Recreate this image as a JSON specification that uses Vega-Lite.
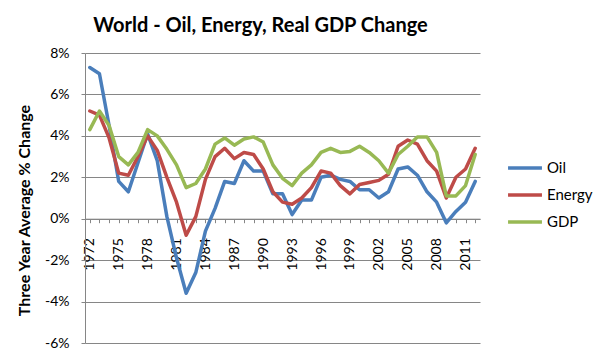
{
 "$schema": "https://vega.github.io/schema/vega-lite/v6.json",
 "width": 395, "height": 290,
 "autosize": {"type": "none"},
 "padding": {"left": 85, "top": 53, "right": 120, "bottom": 13},
 "background": "white",
 "title": {"text": "World - Oil, Energy, Real GDP Change", "font": "Lato", "fontSize": 20, "fontWeight": "bold", "color": "#000", "anchor": "middle", "dx": -22, "offset": 10},
 "data": {"values": [
  {"year":1972,"series":"Oil","value":7.3},{"year":1973,"series":"Oil","value":7.0},{"year":1974,"series":"Oil","value":4.5},{"year":1975,"series":"Oil","value":1.8},{"year":1976,"series":"Oil","value":1.3},{"year":1977,"series":"Oil","value":2.7},{"year":1978,"series":"Oil","value":4.1},{"year":1979,"series":"Oil","value":2.8},{"year":1980,"series":"Oil","value":0.1},{"year":1981,"series":"Oil","value":-1.9},{"year":1982,"series":"Oil","value":-3.6},{"year":1983,"series":"Oil","value":-2.6},{"year":1984,"series":"Oil","value":-0.6},{"year":1985,"series":"Oil","value":0.5},{"year":1986,"series":"Oil","value":1.8},{"year":1987,"series":"Oil","value":1.7},{"year":1988,"series":"Oil","value":2.8},{"year":1989,"series":"Oil","value":2.3},{"year":1990,"series":"Oil","value":2.3},{"year":1991,"series":"Oil","value":1.2},{"year":1992,"series":"Oil","value":1.2},{"year":1993,"series":"Oil","value":0.2},{"year":1994,"series":"Oil","value":0.9},{"year":1995,"series":"Oil","value":0.9},{"year":1996,"series":"Oil","value":2.0},{"year":1997,"series":"Oil","value":2.1},{"year":1998,"series":"Oil","value":1.9},{"year":1999,"series":"Oil","value":1.8},{"year":2000,"series":"Oil","value":1.4},{"year":2001,"series":"Oil","value":1.4},{"year":2002,"series":"Oil","value":1.0},{"year":2003,"series":"Oil","value":1.3},{"year":2004,"series":"Oil","value":2.4},{"year":2005,"series":"Oil","value":2.5},{"year":2006,"series":"Oil","value":2.1},{"year":2007,"series":"Oil","value":1.3},{"year":2008,"series":"Oil","value":0.8},{"year":2009,"series":"Oil","value":-0.2},{"year":2010,"series":"Oil","value":0.35},{"year":2011,"series":"Oil","value":0.8},{"year":2012,"series":"Oil","value":1.8},
  {"year":1972,"series":"Energy","value":5.2},{"year":1973,"series":"Energy","value":5.0},{"year":1974,"series":"Energy","value":3.9},{"year":1975,"series":"Energy","value":2.2},{"year":1976,"series":"Energy","value":2.1},{"year":1977,"series":"Energy","value":3.0},{"year":1978,"series":"Energy","value":4.0},{"year":1979,"series":"Energy","value":3.3},{"year":1980,"series":"Energy","value":2.0},{"year":1981,"series":"Energy","value":0.8},{"year":1982,"series":"Energy","value":-0.8},{"year":1983,"series":"Energy","value":0.1},{"year":1984,"series":"Energy","value":1.9},{"year":1985,"series":"Energy","value":3.0},{"year":1986,"series":"Energy","value":3.4},{"year":1987,"series":"Energy","value":2.9},{"year":1988,"series":"Energy","value":3.2},{"year":1989,"series":"Energy","value":3.1},{"year":1990,"series":"Energy","value":2.4},{"year":1991,"series":"Energy","value":1.3},{"year":1992,"series":"Energy","value":0.8},{"year":1993,"series":"Energy","value":0.7},{"year":1994,"series":"Energy","value":1.0},{"year":1995,"series":"Energy","value":1.5},{"year":1996,"series":"Energy","value":2.3},{"year":1997,"series":"Energy","value":2.2},{"year":1998,"series":"Energy","value":1.6},{"year":1999,"series":"Energy","value":1.2},{"year":2000,"series":"Energy","value":1.65},{"year":2001,"series":"Energy","value":1.75},{"year":2002,"series":"Energy","value":1.85},{"year":2003,"series":"Energy","value":2.15},{"year":2004,"series":"Energy","value":3.5},{"year":2005,"series":"Energy","value":3.8},{"year":2006,"series":"Energy","value":3.6},{"year":2007,"series":"Energy","value":2.8},{"year":2008,"series":"Energy","value":2.3},{"year":2009,"series":"Energy","value":1.0},{"year":2010,"series":"Energy","value":2.0},{"year":2011,"series":"Energy","value":2.4},{"year":2012,"series":"Energy","value":3.4},
  {"year":1972,"series":"GDP","value":4.3},{"year":1973,"series":"GDP","value":5.2},{"year":1974,"series":"GDP","value":4.5},{"year":1975,"series":"GDP","value":3.0},{"year":1976,"series":"GDP","value":2.6},{"year":1977,"series":"GDP","value":3.2},{"year":1978,"series":"GDP","value":4.3},{"year":1979,"series":"GDP","value":4.0},{"year":1980,"series":"GDP","value":3.35},{"year":1981,"series":"GDP","value":2.6},{"year":1982,"series":"GDP","value":1.5},{"year":1983,"series":"GDP","value":1.7},{"year":1984,"series":"GDP","value":2.4},{"year":1985,"series":"GDP","value":3.6},{"year":1986,"series":"GDP","value":3.9},{"year":1987,"series":"GDP","value":3.55},{"year":1988,"series":"GDP","value":3.85},{"year":1989,"series":"GDP","value":3.95},{"year":1990,"series":"GDP","value":3.7},{"year":1991,"series":"GDP","value":2.6},{"year":1992,"series":"GDP","value":1.95},{"year":1993,"series":"GDP","value":1.6},{"year":1994,"series":"GDP","value":2.2},{"year":1995,"series":"GDP","value":2.6},{"year":1996,"series":"GDP","value":3.2},{"year":1997,"series":"GDP","value":3.4},{"year":1998,"series":"GDP","value":3.2},{"year":1999,"series":"GDP","value":3.25},{"year":2000,"series":"GDP","value":3.5},{"year":2001,"series":"GDP","value":3.2},{"year":2002,"series":"GDP","value":2.8},{"year":2003,"series":"GDP","value":2.2},{"year":2004,"series":"GDP","value":3.1},{"year":2005,"series":"GDP","value":3.5},{"year":2006,"series":"GDP","value":3.95},{"year":2007,"series":"GDP","value":3.95},{"year":2008,"series":"GDP","value":3.2},{"year":2009,"series":"GDP","value":1.1},{"year":2010,"series":"GDP","value":1.1},{"year":2011,"series":"GDP","value":1.6},{"year":2012,"series":"GDP","value":3.1}
 ]},
 "mark": {"type": "line", "strokeWidth": 3.5, "strokeJoin": "round", "strokeCap": "round"},
 "encoding": {
  "x": {"field": "year", "type": "ordinal", "sort": "ascending", "scale": {"type": "point", "padding": 0.5},
        "axis": {"title": null, "offset": -124.3, "grid": false, "domainColor": "#868686", "tickColor": "#868686", "tickSize": 4, "labelAngle": 270, "labelFont": "Lato", "labelFontSize": 14, "labelColor": "#000", "labelPadding": 15, "labelOverlap": false, "labelExpr": "(datum.value - 1972) % 3 == 0 ? datum.label : ''"}},
  "y": {"field": "value", "type": "quantitative", "scale": {"domain": [-6, 8], "nice": false},
        "axis": {"title": "Three Year Average % Change", "titleFont": "Lato", "titleFontSize": 16, "titleFontWeight": "bold", "titleColor": "#000", "titlePadding": 12, "titleY": 157, "values": [-6,-4,-2,0,2,4,6,8], "labelExpr": "datum.value + '%'", "labelFont": "Lato", "labelFontSize": 14, "labelColor": "#000", "labelPadding": 12, "tickSize": 4, "tickColor": "#868686", "domainColor": "#868686", "grid": true, "gridColor": "#868686", "gridWidth": 1}},
  "color": {"field": "series", "type": "nominal", "sort": ["Oil", "Energy", "GDP"],
        "scale": {"domain": ["Oil", "Energy", "GDP"], "range": ["#4A7EBB", "#BE4B48", "#98B954"]},
        "legend": {"orient": "none", "legendX": 421, "legendY": 96, "title": null, "symbolType": "stroke", "symbolStrokeWidth": 3.5, "symbolSize": 1150, "labelFont": "Lato", "labelFontSize": 15, "labelColor": "#000", "labelOffset": 3, "rowPadding": 0}}
 },
 "config": {"view": {"stroke": null}}
}
